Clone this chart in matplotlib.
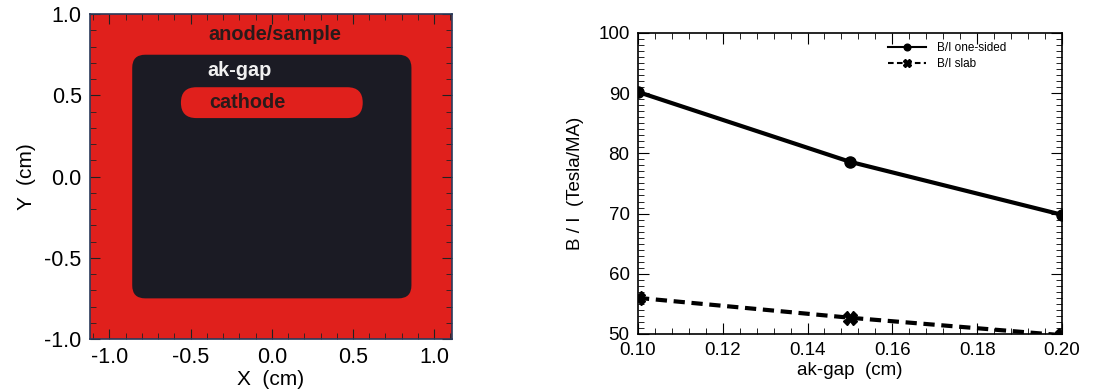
import matplotlib
matplotlib.use("Agg")
import matplotlib.pyplot as plt
from matplotlib.patches import FancyBboxPatch
from matplotlib.ticker import AutoMinorLocator, MultipleLocator

plt.rcParams['font.family'] = ['Liberation Sans', 'DejaVu Sans']

# left panel: geometry (cm)  [x0, y0, x1, y1]
gap_box = [-0.86, -0.75, 0.86, 0.75]
cathode_box = [-0.56, 0.36, 0.56, 0.55]
region_labels = ["anode/sample", "ak-gap", "cathode"]
label_pos = [(0.02, 0.875), (-0.20, 0.65), (-0.15, 0.455)]
label_colors = ["#2a1a1a", "#f0f0f0", "#2a1a1a"]

# right panel: B/I vs ak-gap
ak_gap = [0.10, 0.15, 0.20]
bi_one_sided = [90.2, 78.6, 69.8]
bi_slab = [56.0, 52.7, 49.8]

red = "#e0201c"
dark = "#1b1b24"

fig = plt.figure(figsize=(10.95, 3.9), dpi=100)

ax1 = fig.add_axes([0.0822, 0.1308, 0.3306, 0.833])
ax1.set_facecolor(red)
ax1.set_xlim(-1.12, 1.11)
ax1.set_ylim(-1.0, 1.0)

x0, y0, x1, y1 = gap_box
ax1.add_patch(FancyBboxPatch((x0, y0), x1 - x0, y1 - y0,
                             boxstyle="round,pad=0,rounding_size=0.08",
                             facecolor=dark, edgecolor="none"))
x0, y0, x1, y1 = cathode_box
ax1.add_patch(FancyBboxPatch((x0, y0), x1 - x0, y1 - y0,
                             boxstyle="round,pad=0,rounding_size=%.3f" % ((y1 - y0) / 2),
                             facecolor=red, edgecolor="none"))
for txt, (tx, ty), c in zip(region_labels, label_pos, label_colors):
    ax1.text(tx, ty, txt, color=c, fontsize=14.3, fontweight="bold",
             ha="center", va="center")

ax1.xaxis.set_major_locator(MultipleLocator(0.5))
ax1.yaxis.set_major_locator(MultipleLocator(0.5))
ax1.xaxis.set_minor_locator(MultipleLocator(0.1))
ax1.yaxis.set_minor_locator(MultipleLocator(0.1))
ax1.xaxis.set_major_formatter(plt.FormatStrFormatter('%.1f'))
ax1.yaxis.set_major_formatter(plt.FormatStrFormatter('%.1f'))
ax1.tick_params(which="both", direction="in", top=True, right=True, color="#222222")
ax1.tick_params(which="major", length=7, labelsize=15.5, pad=6)
ax1.tick_params(which="minor", length=4)
ax1.set_xlabel("X  (cm)", fontsize=15, labelpad=1)
ax1.set_ylabel("Y  (cm)", fontsize=15, labelpad=6)
for s in ax1.spines.values():
    s.set_linewidth(1.2)
    s.set_color("#2a3a5a")

ax2 = fig.add_axes([0.5826, 0.1436, 0.3872, 0.772])
ax2.plot(ak_gap, bi_one_sided, "-", color="black", lw=3, marker="o", ms=8,
         label="B/I one-sided")
ax2.plot(ak_gap, bi_slab, "--", color="black", lw=3, marker="X", ms=10,
         dashes=(2.7, 1.6), label="B/I slab")
ax2.set_xlim(0.10, 0.20)
ax2.set_ylim(50, 100)
ax2.xaxis.set_major_locator(MultipleLocator(0.02))
ax2.yaxis.set_major_locator(MultipleLocator(10))
ax2.xaxis.set_minor_locator(AutoMinorLocator(5))
ax2.yaxis.set_minor_locator(AutoMinorLocator(10))
ax2.xaxis.set_major_formatter(plt.FormatStrFormatter('%.2f'))
ax2.tick_params(which="both", direction="in", top=True, right=True)
ax2.tick_params(which="major", length=8, labelsize=13.5, pad=6)
ax2.tick_params(which="minor", length=4)
ax2.set_xlabel("ak-gap  (cm)", fontsize=13.5, labelpad=2)
ax2.set_ylabel("B / I  (Tesla/MA)", fontsize=13.5, labelpad=10)
for s in ax2.spines.values():
    s.set_linewidth(1.2)
leg = ax2.legend(loc="upper left", bbox_to_anchor=(0.59, 0.97), fontsize=8.5,
                 frameon=False, borderpad=0, borderaxespad=0,
                 handlelength=3.2, markerscale=0.6,
                 handletextpad=0.9, labelspacing=0.35)
for h in leg.legend_handles:
    h.set_linewidth(1.5)

fig.savefig("out.png", dpi=100)
